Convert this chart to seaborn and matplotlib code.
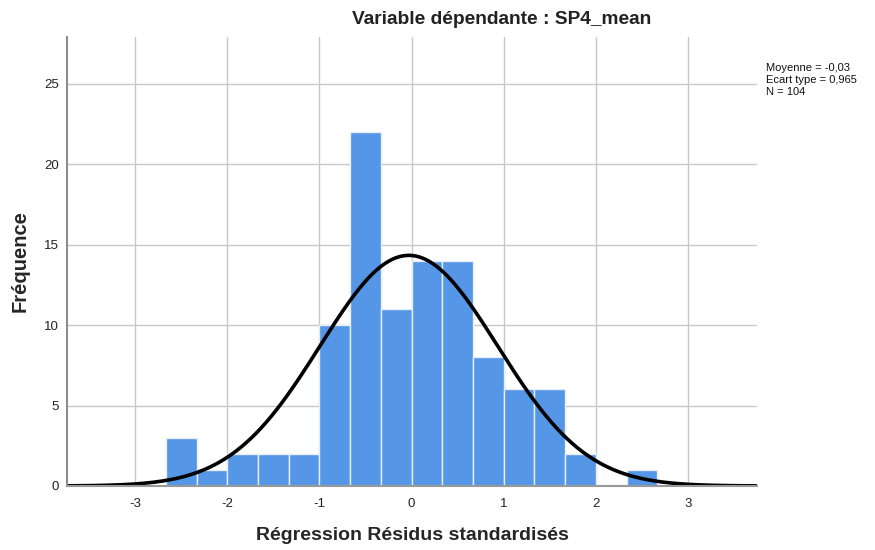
import numpy as np
import pandas as pd
import matplotlib
matplotlib.use("Agg")
import matplotlib.pyplot as plt
import seaborn as sns

# histogram bins (width 1/3) and counts
bin_start = -8/3
bin_end = 8/3
bin_width = 1/3
counts = [3, 1, 2, 2, 2, 10, 22, 11, 14, 14, 8, 6, 6, 2, 0, 1]

# fitted normal curve parameters (from the annotation)
mean_val = -0.03
std_val = 0.965
n_obs = 104

sns.set_theme(style="white")
plt.rcParams['font.family'] = ['Liberation Sans', 'DejaVu Sans']

centers = bin_start + bin_width * (np.arange(len(counts)) + 0.5)
df = pd.DataFrame({'resid': centers, 'count': counts})

fig = plt.figure(figsize=(8.75, 5.5), dpi=100)
ax = fig.add_axes([0.0766, 0.1164, 0.7886, 0.8163])

# grid first so bars sit over it
ax.set_axisbelow(True)
ax.grid(True, color='#c8c8c8', linewidth=1.0)

sns.histplot(data=df, x='resid', weights='count', binwidth=bin_width,
             binrange=(bin_start, bin_end), ax=ax,
             color='#5596e6', alpha=1.0, edgecolor='#e6eefa', linewidth=1.0)

# normal curve scaled to counts
xs = np.linspace(-3.74, 3.75, 400)
ys = n_obs * bin_width / (std_val * np.sqrt(2 * np.pi)) * np.exp(-0.5 * ((xs - mean_val) / std_val) ** 2)
sns.lineplot(x=xs, y=ys, ax=ax, color='black', linewidth=2.6)

ax.set_xlim(-3.74, 3.75)
ax.set_ylim(0, 27.9)
ax.set_xticks([-3, -2, -1, 0, 1, 2, 3])
ax.set_xticklabels(['-3', '-2', '-1', '0', '1', '2', '3'])
ax.set_yticks([0, 5, 10, 15, 20, 25])
ax.tick_params(axis='both', length=0, labelsize=9.5, colors='#222222')
ax.tick_params(axis='x', pad=9)
ax.tick_params(axis='y', pad=6)

for side in ['top', 'right']:
    ax.spines[side].set_visible(False)
ax.spines['left'].set_color('#8c8c8c')
ax.spines['left'].set_linewidth(1.5)
ax.spines['bottom'].set_color('#999999')
ax.spines['bottom'].set_linewidth(1.5)

ax.set_xlabel('Régression Résidus standardisés', fontsize=14, fontweight='bold', labelpad=12)
ax.set_ylabel('Fréquence', fontsize=14.5, fontweight='bold', labelpad=10)

fig.text(0.573, 0.965, 'Variable dépendante : SP4_mean', ha='center', va='center',
         fontsize=13.8, fontweight='bold', color='#222222')
fig.text(0.875, 0.855, 'Moyenne = -0,03\nEcart type = 0,965\nN = 104',
         ha='left', va='center', fontsize=8, linespacing=1.25, color='#111111')

fig.savefig('out.png', dpi=100)
plt.close(fig)
